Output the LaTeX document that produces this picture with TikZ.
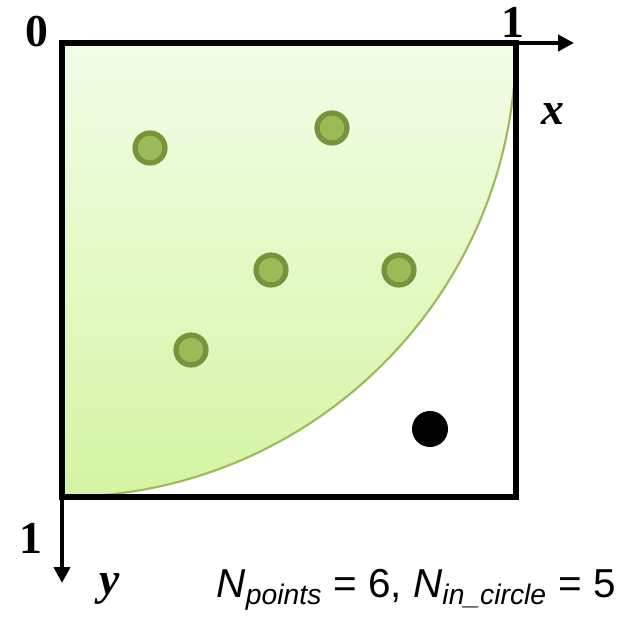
\documentclass[tikz,border=0pt]{standalone}
\usepackage{fontspec}
\setmainfont{Liberation Serif}
\newfontfamily\formulafont{Liberation Sans}
\usetikzlibrary{arrows.meta, positioning}
\definecolor{myolive}{RGB}{119,147,60}
\definecolor{mygreen}{RGB}{155,187,89}
\definecolor{hdrtop}{RGB}{243,253,232}
\definecolor{hdrbottom}{RGB}{212,245,162}
\tikzset{
  inpoint/.style={circle, draw=myolive, fill=mygreen,
    minimum size=17pt, inner sep=0pt, line width=3pt},
  outpoint/.style={circle, fill=black, minimum size=20.5pt, inner sep=0pt},
  axis/.style={-{Triangle[length=9pt, width=9pt]}, line width=2.8pt},
  frame/.style={line width=3.4pt, line join=miter},
  lbl/.style={font=\fontsize{26}{28}\selectfont\bfseries, inner sep=0pt},
  varlbl/.style={font=\fontsize{26}{28}\selectfont\bfseries\itshape, inner sep=0pt}
}

\begin{document}
\begin{tikzpicture}[x=0.02cm, y=0.02cm]
  \useasboundingbox (0,0) rectangle (630,-621);

  % Quarter circle
  \shade[top color=hdrtop, bottom color=hdrbottom]
    (62,-43) -- (516,-43) arc[start angle=0, end angle=-90, radius=9.08cm] -- cycle;
  \draw[mygreen, line width=1.2pt] (62,-43) -- (516,-43) arc[start angle=0, end angle=-90, radius=9.08cm];

  % Square
  \draw[frame] (62,-43) rectangle (516,-497);

  % Axes
  \coordinate (o) at (62,-43);
  \coordinate (xtip) at (574,-43);
  \coordinate (ytip) at (62,-583);
  \draw[axis] (o) -- (xtip);
  \draw[axis] (o) -- (ytip);
  \node[lbl] (zero) at (37,-32) {0};
  \node[lbl] (xone) at (513,-22) {1};
  \node[varlbl] (xlbl) at (553,-114) {x};
  \node[lbl] (yone) at (31,-538) {1};
  \node[varlbl] (ylbl) at (110,-589) {y};

  % Points
  \node[inpoint] (p1) at (150,-148) {};
  \node[inpoint] (p2) at (332,-128) {};
  \node[inpoint] (p3) at (271,-270) {};
  \node[inpoint] (p4) at (399,-270) {};
  \node[inpoint] (p5) at (191,-350) {};
  \node[outpoint] (p6) at (430,-429) {};

  % Count
  \node[font=\fontsize{23}{25}\selectfont\formulafont, inner sep=0pt, anchor=base east] (count) at (616,-598)
    {\textit{N}\textsubscript{\textit{points}} = 6, \textit{N}\textsubscript{\textit{in\_circle}} = 5};
\end{tikzpicture}
\end{document}
